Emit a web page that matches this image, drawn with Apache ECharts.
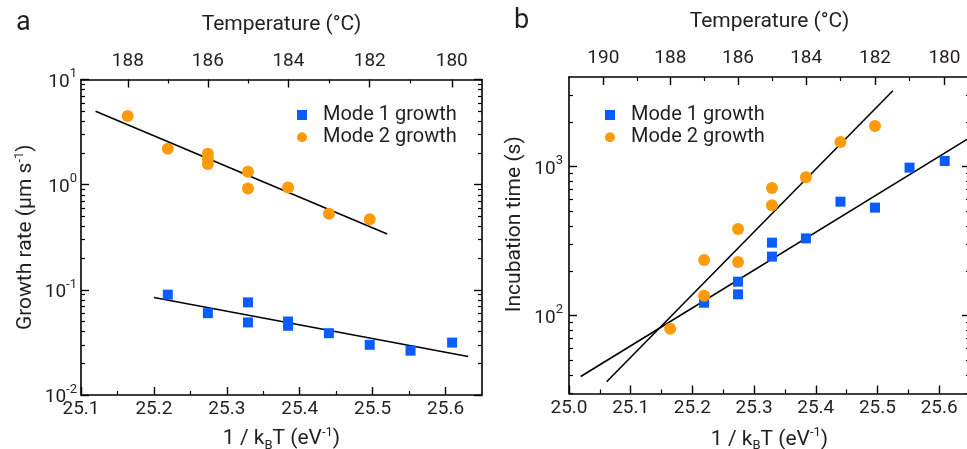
<!DOCTYPE html>
<html><head><meta charset="utf-8">
<script src="https://cdn.jsdelivr.net/npm/echarts@6/dist/echarts.min.js"></script>
<style>html,body{margin:0;padding:0;background:#fff}#c{width:967px;height:449px}</style>
</head><body><div id="c"></div>
<script>
const KB = 8.617333e-5; // eV/K
// ---------- Panel a : growth rate ----------
const aXTicks = [25.1, 25.2, 25.3, 25.4, 25.5, 25.6];
const aXMinor = [25.15, 25.25, 25.35, 25.45, 25.55];
const aTempMajor = [188, 186, 184, 182, 180];
const aTempMinor = [187, 185, 183, 181];
const aYMajor = [0.01, 0.1, 1, 10];
const aYMinor = [0.02,0.03,0.04,0.05,0.06,0.07,0.08,0.09,0.2,0.3,0.4,0.5,0.6,0.7,0.8,0.9,2,3,4,5,6,7,8,9];
const aMode1 = [[25.219,0.090],[25.274,0.060],[25.329,0.076],[25.329,0.049],[25.384,0.050],[25.384,0.0455],[25.440,0.0387],[25.496,0.030],[25.552,0.0264],[25.609,0.0315]];
const aMode2 = [[25.164,4.5],[25.219,2.2],[25.274,1.97],[25.274,1.76],[25.274,1.57],[25.329,1.33],[25.329,0.92],[25.384,0.94],[25.440,0.53],[25.496,0.47]];
const aFit1 = [[25.2,0.0845],[25.631,0.0232]];
const aFit2 = [[25.12,5.0],[25.52,0.34]];
// ---------- Panel b : incubation time ----------
const bXTicks = [25.0, 25.1, 25.2, 25.3, 25.4, 25.5, 25.6];
const bXMinor = [25.05, 25.15, 25.25, 25.35, 25.45, 25.55];
const bTempMajor = [190, 188, 186, 184, 182, 180];
const bTempMinor = [189, 187, 185, 183, 181];
const bYMajor = [100, 1000];
const bYMinor = [30,40,50,60,70,80,90,200,300,400,500,600,700,800,900,2000,3000];
const bMode1 = [[25.219,122],[25.274,169],[25.274,139],[25.329,309],[25.329,249],[25.384,330],[25.440,582],[25.496,531],[25.552,985],[25.609,1092]];
const bMode2 = [[25.164,81.5],[25.219,236],[25.219,136],[25.274,382],[25.274,229],[25.329,720],[25.329,551],[25.384,849],[25.440,1465],[25.496,1875]];
const bFit1 = [[25.019,39],[25.65,1570]];
const bFit2 = [[25.061,36],[25.525,3236]];

const seriesNames = ['Mode 1 growth', 'Mode 2 growth'];
const BLUE = '#0a5cff', ORANGE = '#ff9a0a';
const FONT = 'Roboto';
const TXT = '#231f20';

const invKT = T => 1 / (KB * (T + 273.15));
const toTemp = v => Math.round(1 / (KB * v) - 273.15);

const lineStyle = {color:'#000', width:1.6};
const tickMaj = vals => ({show:true, inside:true, length:8, lineStyle:{color:'#000', width:1.4}, customValues: vals});
const tickMin = vals => ({show:true, inside:true, length:4, lineStyle:{color:'#000', width:1.2}, customValues: vals});
const lab = {fontFamily:FONT, fontSize:19, color:TXT};
const richName = {
  sup:{fontFamily:FONT, fontSize:13, lineHeight:13, verticalAlign:'top', color:TXT},
  sub:{fontFamily:FONT, fontSize:13, lineHeight:13, verticalAlign:'bottom', color:TXT}
};
const nameStyle = {fontFamily:FONT, fontSize:21, lineHeight:26, color:TXT, rich:richName};
const logFmt = v => '{b|10}{s|' + Math.round(Math.log10(v)) + '}';
const logRich = {
  b:{fontFamily:FONT, fontSize:19, lineHeight:24, verticalAlign:'bottom', color:TXT},
  s:{fontFamily:FONT, fontSize:13, lineHeight:13, verticalAlign:'top', color:TXT}
};

function xAxes(gMaj, gMin, min, max, ticks, minor, tMaj, tMin, gapB) {
  return [
    {gridIndex:gMaj, type:'value', position:'bottom', min, max,
     axisLine:{show:true, lineStyle}, axisTick:tickMaj(ticks), splitLine:{show:false},
     axisLabel:Object.assign({customValues:ticks, margin:5, formatter:v=>v.toFixed(1)}, lab),
     name:'1 / k{sub|B}T (eV{sup|-1})', nameLocation:'middle', nameGap:gapB, nameTextStyle:nameStyle},
    {gridIndex:gMaj, type:'value', position:'top', min, max,
     axisLine:{show:true, lineStyle}, axisTick:tickMaj(tMaj.map(invKT)), splitLine:{show:false},
     axisLabel:Object.assign({customValues:tMaj.map(invKT), margin:9, formatter:toTemp}, lab),
     name:'Temperature (°C)', nameLocation:'middle', nameGap:42, nameTextStyle:nameStyle},
    {gridIndex:gMin, type:'value', position:'bottom', min, max,
     axisLine:{show:false}, axisTick:tickMin(minor), axisLabel:{show:false}, splitLine:{show:false}},
    {gridIndex:gMin, type:'value', position:'top', min, max,
     axisLine:{show:false}, axisTick:tickMin(tMin.map(invKT)), axisLabel:{show:false}, splitLine:{show:false}}
  ];
}
function yAxes(gMaj, gMin, min, max, major, minor, name, gap, lm, pad) {
  return [
    {gridIndex:gMaj, type:'log', position:'left', min, max,
     axisLine:{show:true, lineStyle}, axisTick:tickMaj(major), splitLine:{show:false}, minorTick:{show:false},
     axisLabel:{customValues:major, margin:lm, formatter:logFmt, rich:logRich},
     name, nameLocation:'middle', nameGap:gap, nameTextStyle:Object.assign({padding:pad}, nameStyle)},
    {gridIndex:gMaj, type:'log', position:'right', min, max,
     axisLine:{show:true, lineStyle}, axisTick:tickMaj(major), splitLine:{show:false},
     axisLabel:{show:false}},
    {gridIndex:gMin, type:'log', position:'left', min, max,
     axisLine:{show:false}, axisTick:tickMin(minor), splitLine:{show:false}, axisLabel:{show:false}},
    {gridIndex:gMin, type:'log', position:'right', min, max,
     axisLine:{show:false}, axisTick:tickMin(minor), splitLine:{show:false}, axisLabel:{show:false}}
  ];
}

const gA = {left:81, top:79.5, width:401, height:315.5, outerBoundsMode:'none', containLabel:false};
const gB = {left:569, top:77, width:401, height:316.5, outerBoundsMode:'none', containLabel:false};

function fit(name, data, xi, yi) {
  return {name, type:'line', data, xAxisIndex:xi, yAxisIndex:yi, symbol:'none', showSymbol:false,
          lineStyle:{color:'#000', width:1.6}, itemStyle:{color:'#000'}, z:2, silent:true, clip:true};
}
function pts(name, data, xi, yi, sym, size, color) {
  return {name, type:'scatter', data, xAxisIndex:xi, yAxisIndex:yi, symbol:sym, symbolSize:size,
          itemStyle:{color, opacity:1}, z:3, silent:true};
}
const legendBase = {orient:'vertical', top:100, itemWidth:10, itemHeight:10, itemGap:2.3, selectedMode:false,
  textStyle:{fontFamily:FONT, fontSize:20, lineHeight:20, color:TXT, padding:[0,0,0,11]},
  data:[{name:seriesNames[0], icon:'rect'}, {name:seriesNames[1], icon:'circle'}]};

const option = {
  animation:false,
  backgroundColor:'#fff',
  grid:[gA, Object.assign({}, gA), gB, Object.assign({}, gB)],
  xAxis:[].concat(
    xAxes(0, 1, 25.1, 25.65, aXTicks, aXMinor, aTempMajor, aTempMinor, 31),
    xAxes(2, 3, 25.0, 25.65, bXTicks, bXMinor, bTempMajor, bTempMinor, 33)),
  yAxis:[].concat(
    yAxes(0, 1, 0.01, 10, aYMajor, aYMinor, 'Growth rate (µm s{sup|-1})', 42, 4, [0,0,0,0]),
    yAxes(2, 3, 30, 4000, bYMajor, bYMinor, 'Incubation time (s)', 41, 6, [0,0,0,22])),
  legend:[Object.assign({left:292}, legendBase), Object.assign({left:600}, legendBase)],
  graphic:[
    {type:'text', x:16, y:23, style:{text:'a', font:'27px Roboto', fill:TXT, verticalAlign:'middle'}},
    {type:'text', x:514, y:21, style:{text:'b', font:'27px Roboto', fill:TXT, verticalAlign:'middle'}}
  ],
  series:[
    fit('fitA1', aFit1, 0, 0), fit('fitA2', aFit2, 0, 0),
    pts(seriesNames[0], aMode1, 0, 0, 'rect', 10, BLUE),
    pts(seriesNames[1], aMode2, 0, 0, 'circle', 12, ORANGE),
    fit('fitB1', bFit1, 4, 4), fit('fitB2', bFit2, 4, 4),
    pts(seriesNames[0], bMode1, 4, 4, 'rect', 10, BLUE),
    pts(seriesNames[1], bMode2, 4, 4, 'circle', 12, ORANGE)
  ]
};
const chart = echarts.init(document.getElementById('c'), null, {renderer:'canvas'});
chart.setOption(option);
</script></body></html>
